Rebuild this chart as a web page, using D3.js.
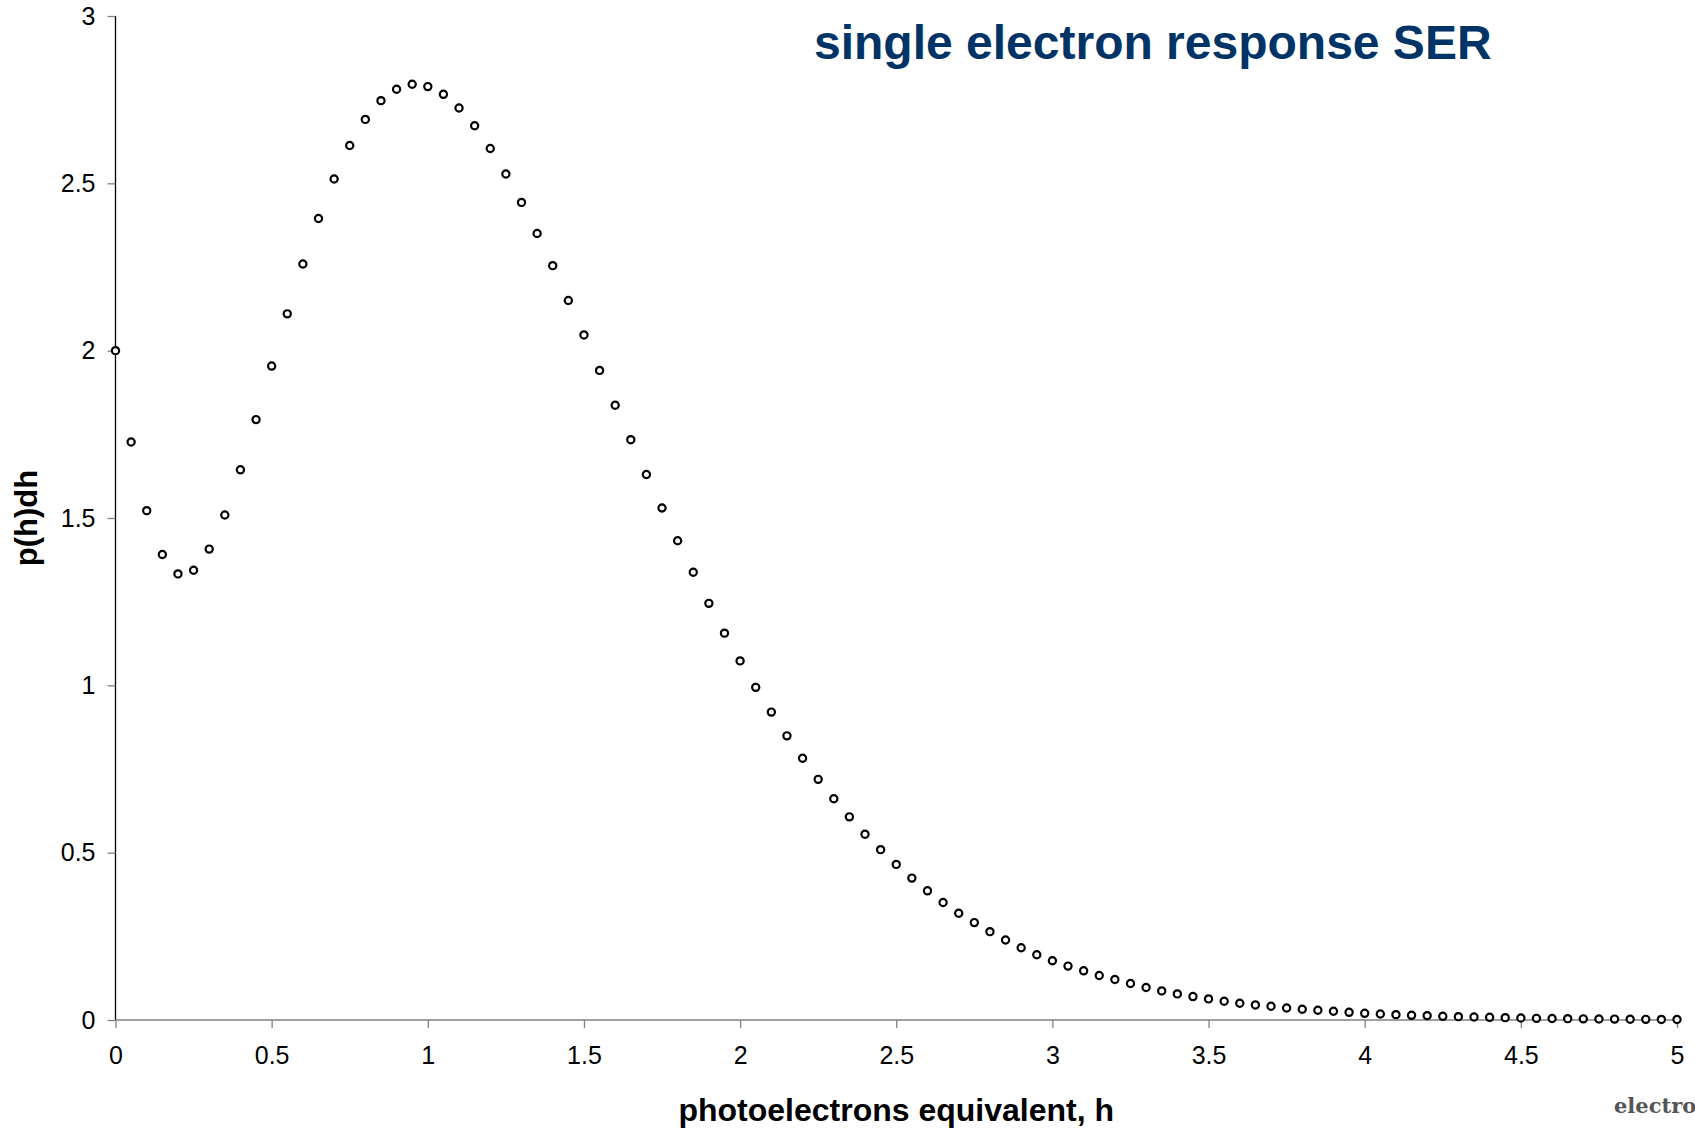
<!DOCTYPE html>
<html>
<head>
<meta charset="utf-8">
<script src="https://cdn.jsdelivr.net/npm/d3@7"></script>
<style>
  html, body { margin: 0; padding: 0; background: #fff; overflow: hidden; }
  text { font-family: "Liberation Sans", Arial, sans-serif; }
</style>
</head>
<body>
<svg id="one" width="1695" height="1130"></svg>
<script>
const hStep = 0.05;
const serValues = [
  2.000, 1.727, 1.522, 1.391, 1.333, 1.344, 1.407, 1.509, 1.644, 1.794,
  1.954, 2.110, 2.259, 2.395, 2.513, 2.613, 2.691, 2.747, 2.781, 2.796,
  2.789, 2.766, 2.725, 2.672, 2.604, 2.528, 2.443, 2.350, 2.254, 2.150,
  2.047, 1.941, 1.837, 1.734, 1.630, 1.530, 1.432, 1.338, 1.245, 1.156,
  1.073, 0.994, 0.920, 0.849, 0.782, 0.719, 0.661, 0.607, 0.555, 0.509,
  0.465, 0.424, 0.386, 0.351, 0.319, 0.291, 0.264, 0.239, 0.216, 0.195,
  0.177, 0.161, 0.147, 0.133, 0.121, 0.109, 0.097, 0.087, 0.078, 0.070,
  0.063, 0.056, 0.050, 0.045, 0.041, 0.036, 0.032, 0.029, 0.026, 0.023,
  0.020, 0.018, 0.016, 0.014, 0.013, 0.011, 0.010, 0.009, 0.008, 0.007,
  0.006, 0.005, 0.0045, 0.004, 0.0035, 0.003, 0.0027, 0.0023, 0.002, 0.0017,
  0.0015
];
const xTicks = [0, 0.5, 1, 1.5, 2, 2.5, 3, 3.5, 4, 4.5, 5];
const yTicks = [0, 0.5, 1, 1.5, 2, 2.5, 3];

const data = serValues.map((v, i) => ({ h: +(i * hStep).toFixed(2), p: v }));

const svg = d3.select('#one');
const width = +svg.attr('width');
const height = +svg.attr('height');

const margin = { top: 16, right: 18, bottom: 110, left: 115.5 };
const innerWidth = width - margin.left - margin.right;
const innerHeight = height - margin.top - margin.bottom;

const xScale = d3.scaleLinear().domain([0, 5]).range([0, innerWidth]);
const yScale = d3.scaleLinear().domain([0, 3]).range([innerHeight, 0]);

const g = svg.append('g')
    .attr('transform', 'translate(' + margin.left + ',' + margin.top + ')');

// y axis
const yAxis = g.append('g').call(d3.axisLeft(yScale)
    .tickValues(yTicks)
    .tickFormat(d3.format('~g'))
    .tickSize(8)
    .tickPadding(12));
yAxis.select('.domain').attr('stroke', '#000').attr('stroke-width', 1.3)
    .attr('d', 'M0,0V' + innerHeight);
yAxis.selectAll('.tick line').attr('stroke', '#808080').attr('stroke-width', 1.3);
yAxis.selectAll('.tick text')
    .style('font-size', '25px')
    .attr('fill', '#000');

// x axis
const xAxis = g.append('g')
    .attr('transform', 'translate(0,' + innerHeight + ')')
    .call(d3.axisBottom(xScale)
      .tickValues(xTicks)
      .tickFormat(d3.format('~g'))
      .tickSize(8)
      .tickPadding(18));
xAxis.select('.domain').attr('stroke', '#808080').attr('stroke-width', 1.3)
    .attr('d', 'M0,0H' + innerWidth);
xAxis.selectAll('.tick line').attr('stroke', '#808080').attr('stroke-width', 1.3);
xAxis.selectAll('.tick text')
    .style('font-size', '25px')
    .attr('fill', '#000');

// points
g.selectAll('circle')
    .data(data)
    .enter()
    .append('circle')
    .attr('cx', d => xScale(d.h))
    .attr('cy', d => yScale(d.p))
    .attr('r', 3.6)
    .attr('fill', '#fff')
    .attr('stroke', '#000')
    .attr('stroke-width', 2.2);

// axis labels
svg.append('text')
    .attr('x', margin.left + innerWidth / 2)
    .attr('y', 1121)
    .style('text-anchor', 'middle')
    .style('font-size', '32px')
    .style('font-weight', 'bold')
    .text('photoelectrons equivalent, h');

svg.append('text')
    .attr('transform', 'translate(37,' + (margin.top + innerHeight / 2) + ') rotate(-90)')
    .style('text-anchor', 'middle')
    .style('font-size', '31px')
    .style('font-weight', 'bold')
    .text('p(h)dh');

// title
svg.append('text')
    .attr('x', 814)
    .attr('y', 59)
    .style('font-size', '48px')
    .style('font-weight', 'bold')
    .attr('fill', '#003366')
    .text('single electron response SER');

// fragment of a caption cut by the right edge
svg.append('text')
    .attr('x', 1614)
    .attr('y', 1113)
    .style('font-family', '"DejaVu Serif", serif')
    .style('font-size', '21px')
    .style('font-weight', 'bold')
    .attr('fill', '#555')
    .text('electron');
</script>
</body>
</html>
